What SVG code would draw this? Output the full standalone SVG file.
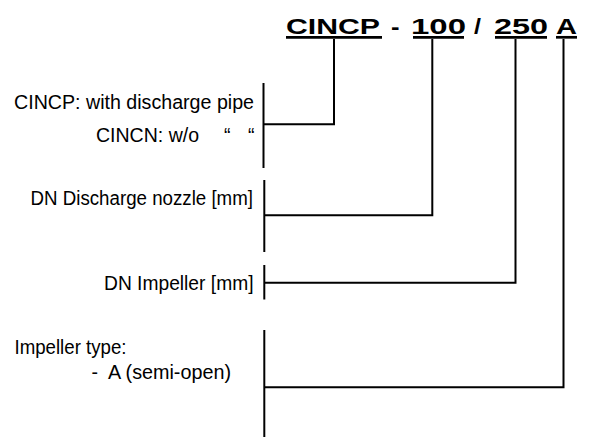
<svg xmlns="http://www.w3.org/2000/svg" width="593" height="437" viewBox="0 0 593 437">
<style>
.t{font-family:"Liberation Sans",Arial,sans-serif;font-size:19.5px;fill:#000}
.h{font-family:"Liberation Sans",Arial,sans-serif;font-size:22px;font-weight:bold;fill:#000}
.u{stroke:#000;stroke-width:2.7;fill:none}
.c{stroke:#000;stroke-width:2;fill:none}
</style>
<rect width="593" height="437" fill="#fff"/>
<g id="code">
<text class="h" x="286" y="33.5" textLength="94" lengthAdjust="spacingAndGlyphs">CINCP</text>
<text class="h" x="391" y="33.5" textLength="8.5" lengthAdjust="spacingAndGlyphs">-</text>
<text class="h" x="411" y="33.5" textLength="55" lengthAdjust="spacingAndGlyphs">100</text>
<text class="h" x="474" y="33.5" textLength="7" lengthAdjust="spacingAndGlyphs">/</text>
<text class="h" x="494" y="33.5" textLength="54" lengthAdjust="spacingAndGlyphs">250</text>
<text class="h" x="556" y="33.5" textLength="21" lengthAdjust="spacingAndGlyphs">A</text>
<line class="u" x1="286" y1="37.3" x2="382" y2="37.3"/>
<line class="u" x1="413" y1="37.3" x2="464" y2="37.3"/>
<line class="u" x1="495" y1="37.3" x2="547" y2="37.3"/>
<line class="u" x1="556" y1="37.3" x2="577" y2="37.3"/>
</g>
<g id="series">
<text class="t" x="14" y="108.7" textLength="240" lengthAdjust="spacingAndGlyphs">CINCP: with discharge pipe</text>
<text class="t" x="96" y="141.7" textLength="103" lengthAdjust="spacingAndGlyphs">CINCN: w/o</text>
<text class="t" x="224" y="141.7">“</text>
<text class="t" x="248" y="141.7">“</text>
</g>
<g id="discharge">
<text class="t" x="30.5" y="205" textLength="222.5" lengthAdjust="spacingAndGlyphs">DN Discharge nozzle [mm]</text>
</g>
<g id="impeller">
<text class="t" x="104" y="290" textLength="149.5" lengthAdjust="spacingAndGlyphs">DN Impeller [mm]</text>
</g>
<g id="type">
<text class="t" x="14.5" y="353.5" textLength="112" lengthAdjust="spacingAndGlyphs">Impeller type:</text>
<text class="t" x="91.5" y="379">-</text>
<text class="t" x="108" y="379" textLength="123" lengthAdjust="spacingAndGlyphs">A (semi-open)</text>
</g>
<g id="connectors">
<path class="c" d="M263.5,83 V168"/>
<path class="c" d="M334,39 V124.3 H263.5"/>
<path class="c" d="M264.3,180 V252"/>
<path class="c" d="M432.3,39 V215.3 H264.3"/>
<path class="c" d="M264.3,265 V299.5"/>
<path class="c" d="M515.5,39 V282.7 H264.3"/>
<path class="c" d="M264.3,330 V437"/>
<path class="c" d="M563.5,39 V387.3 H264.3"/>
</g>
</svg>
